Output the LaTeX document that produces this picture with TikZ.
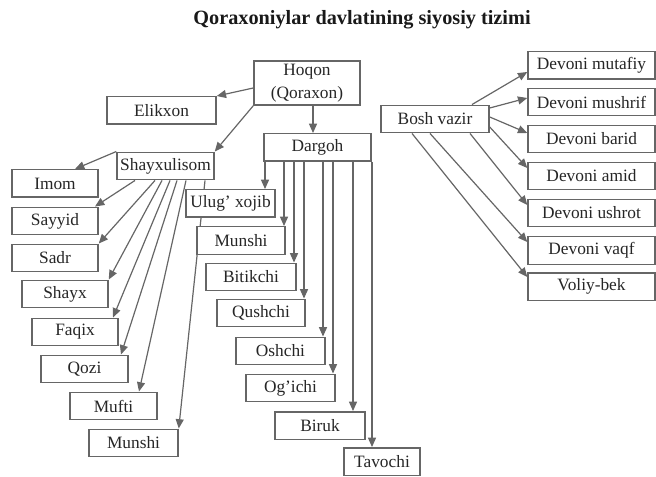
\documentclass[tikz,border=0pt]{standalone}
\usepackage{fontspec}
\setmainfont{Liberation Serif}
\usetikzlibrary{arrows.meta,backgrounds}
\begin{document}
\begin{tikzpicture}[x=0.75pt,y=-0.75pt,font=\fontsize{13}{17}\selectfont,
  box/.style={draw=black!60,line width=1.1pt,fill=white,text=black!85,inner sep=0pt,align=center,minimum height=20.6pt},
  arr/.style={draw=black!60,line width=0.9pt,-{Triangle[length=7pt,width=6pt]}}]
\useasboundingbox (0,0) rectangle (656,477);
\node[font=\fontsize{15.2}{18}\selectfont\bfseries,text=black!90] (title) at (362,20) {Qoraxoniylar davlatining siyosiy tizimi};
\node[box,minimum width=79.5pt,minimum height=33pt] (hoqon) at (307,83) {Hoqon\\(Qoraxon)};
\node[box,minimum width=81.75pt] (elikxon) at (161.5,110.5) {Elikxon};
\node[box,minimum width=72.75pt] (shayxulisom) at (165.5,166) {Shayxulisom};
\node[box,minimum width=80.25pt] (dargoh) at (317.5,147.5) {Dargoh};
\node[box,minimum width=81pt] (bosh) at (435,119) {Bosh vazir};
\node[box,minimum width=64.5pt] (imom) at (55,183.5) {Imom};
\node[box,minimum width=64.5pt] (sayyid) at (55,221) {Sayyid};
\node[box,minimum width=64.5pt] (sadr) at (55,258) {Sadr};
\node[box,minimum width=64.5pt] (shayx) at (65,294) {Shayx};
\node[box,minimum width=64.5pt] (faqix) at (75,332) {Faqix};
\node[box,minimum width=65.25pt] (qozi) at (84.5,369) {Qozi};
\node[box,minimum width=65.25pt] (mufti) at (113.5,406) {Mufti};
\node[box,minimum width=66.75pt] (munshia) at (133.5,443) {Munshi};
\node[box,minimum width=66.75pt] (ulug) at (230.5,203.5) {Ulug’ xojib};
\node[box,minimum width=66pt] (munshib) at (241,240.5) {Munshi};
\node[box,minimum width=67.5pt] (bitikchi) at (251,277) {Bitikchi};
\node[box,minimum width=66pt] (qushchi) at (261,313) {Qushchi};
\node[box,minimum width=66.75pt] (oshchi) at (280.5,351) {Oshchi};
\node[box,minimum width=66.75pt] (ogichi) at (290.5,388) {Og’ichi};
\node[box,minimum width=67.5pt] (biruk) at (320,425.5) {Biruk};
\node[box,minimum width=57pt] (tavochi) at (382,461.5) {Tavochi};
\node[box,minimum width=95.25pt] (mutafiy) at (591.5,65.5) {Devoni mutafiy};
\node[box,minimum width=95.25pt] (mushrif) at (591.5,102) {Devoni mushrif};
\node[box,minimum width=95.25pt] (barid) at (591.5,139) {Devoni barid};
\node[box,minimum width=95.25pt] (amid) at (591.5,176) {Devoni amid};
\node[box,minimum width=95.25pt] (ushrot) at (591.5,213) {Devoni ushrot};
\node[box,minimum width=95.25pt] (vaqf) at (591.5,250.5) {Devoni vaqf};
\node[box,minimum width=95.25pt] (voliy) at (591.5,286.5) {Voliy-bek};
\begin{pgfonlayer}{background}
\draw[arr] (hoqon.west |- 0,88) -- (elikxon.north east);
\draw[arr] (hoqon.south west) -- (shayxulisom.north east);
\draw[arr] (hoqon.south -| 313,0) -- (dargoh.north -| 313,0);
\draw[arr] (shayxulisom.north west) -- (imom.north -| 75,0);
\draw[arr] (shayxulisom.south -| 135,0) -- (sayyid.north -| 95,0);
\draw[arr] (shayxulisom.south -| 155,0) -- (sadr.north east);
\draw[arr] (shayxulisom.south -| 162,0) -- (shayx.north east);
\draw[arr] (shayxulisom.south -| 170,0) -- (faqix.north -| 113,0);
\draw[arr] (shayxulisom.south -| 177,0) -- (qozi.north -| 121,0);
\draw[arr] (shayxulisom.south -| 186,0) -- (mufti.north -| 139,0);
\draw[arr] (shayxulisom.south -| 205,0) -- (munshia.north east);
\draw[arr] (dargoh.south -| 265,0) -- (ulug.north -| 265,0);
\draw[arr] (dargoh.south -| 284,0) -- (munshib.north -| 284,0);
\draw[arr] (dargoh.south -| 294,0) -- (bitikchi.north -| 294,0);
\draw[arr] (dargoh.south -| 304,0) -- (qushchi.north -| 304,0);
\draw[arr] (dargoh.south -| 323,0) -- (oshchi.north -| 323,0);
\draw[arr] (dargoh.south -| 333,0) -- (ogichi.north -| 333,0);
\draw[arr] (dargoh.south -| 353,0) -- (biruk.north -| 353,0);
\draw[arr] (dargoh.south -| 372,0) -- (tavochi.north -| 372,0);
\draw[arr] (bosh.north -| 472,0) -- (mutafiy.west |- 0,72);
\draw[arr] (bosh.east |- 0,108) -- (mushrif.west |- 0,98);
\draw[arr] (bosh.east |- 0,117) -- (barid.west |- 0,133);
\draw[arr] (bosh.east |- 0,127) -- (amid.west |- 0,168);
\draw[arr] (bosh.south -| 470,0) -- (ushrot.west |- 0,205);
\draw[arr] (bosh.south -| 430,0) -- (vaqf.west |- 0,242);
\draw[arr] (bosh.south -| 412,0) -- (voliy.west |- 0,277);
\end{pgfonlayer}
\end{tikzpicture}
\end{document}
